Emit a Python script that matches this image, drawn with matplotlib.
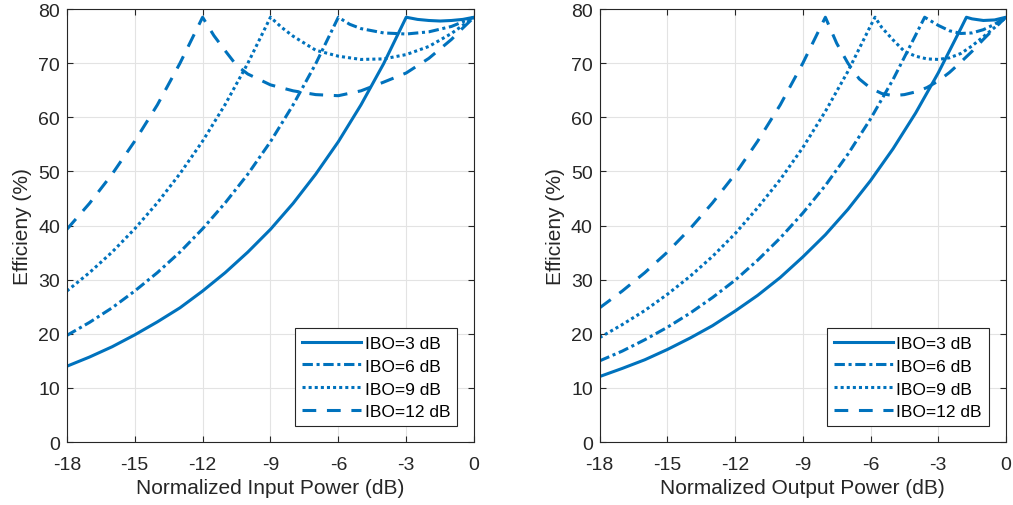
import matplotlib.pyplot as plt
import numpy as np

plt.rcParams['font.family'] = ['Liberation Sans', 'DejaVu Sans']
plt.rcParams['axes.unicode_minus'] = False

# left panel: efficiency vs normalized input power
pin_3 = [-18, -17, -16, -15, -14, -13, -12, -11, -10, -9, -8, -7, -6, -5, -4, -3,
         -2.5, -2, -1.5, -1, -0.5, 0]
eff_in_3 = [14.0, 15.7, 17.6, 19.8, 22.2, 24.8, 27.9, 31.3, 35.1, 39.3, 44.1, 49.5,
            55.5, 62.3, 69.9, 78.5, 78.1, 77.9, 77.8, 77.9, 78.1, 78.5]
pin_6 = [-18, -17, -16, -15, -14, -13, -12, -11, -10, -9, -8, -7, -6,
         -5.5, -5, -4, -3, -2, -1, 0]
eff_in_6 = [19.7, 22.1, 24.8, 27.9, 31.3, 35.1, 39.4, 44.2, 49.5, 55.5, 62.3, 69.9,
            78.5, 77.2, 76.4, 75.6, 75.4, 75.8, 76.8, 78.5]
pin_9 = [-18, -17, -16, -15, -14, -13, -12, -11, -10, -9,
         -8.5, -8, -7, -6, -5, -4, -3, -2, -1, 0]
eff_in_9 = [27.9, 31.3, 35.1, 39.4, 44.2, 49.6, 55.6, 62.4, 70.0, 78.5,
            76.6, 75.0, 72.4, 71.3, 70.7, 70.8, 71.6, 73.1, 75.5, 78.5]
pin_12 = [-18, -17, -16, -15, -14, -13, -12, -11.5, -11, -10.5, -10, -9, -8, -7,
          -6, -5, -4, -3, -2, -1, -0.5, 0]
eff_in_12 = [39.3, 44.1, 49.5, 55.6, 62.3, 70.0, 78.5, 75.1, 72.3, 69.6, 68.0, 66.0,
             64.9, 64.2, 64.0, 64.9, 66.5, 68.2, 70.9, 74.4, 76.5, 78.5]

# right panel: efficiency vs normalized output power
pout_3 = [-18, -17, -16, -15, -14, -13, -12, -11, -10, -9, -8, -7, -6, -5, -4, -3, -2,
          -1.75, -1.5, -1, -0.5, 0]
eff_out_3 = [12.1, 13.6, 15.2, 17.1, 19.2, 21.5, 24.2, 27.1, 30.4, 34.2, 38.3, 43.0,
             48.3, 54.2, 60.8, 68.2, 76.4, 78.5, 78.2, 77.9, 78.0, 78.5]
pout_6 = [-18, -17, -16, -15, -14, -13, -12, -11, -10, -9, -8, -7, -6, -5, -4,
          -3.6, -3, -2.5, -2, -1.5, -1, -0.5, 0]
eff_out_6 = [15.0, 16.8, 18.9, 21.2, 23.8, 26.7, 29.9, 33.6, 37.7, 42.3, 47.4, 53.2,
             59.7, 67.0, 75.2, 78.5, 77.0, 76.0, 75.5, 75.6, 76.2, 77.2, 78.5]
pout_9 = [-18, -17, -16, -15, -14, -13, -12, -11, -10, -9, -8, -7, -6,
          -5.8, -5.5, -5, -4.5, -4, -3.5, -3, -2.5, -2, -1.5, -1, -0.5, 0]
eff_out_9 = [19.3, 21.7, 24.3, 27.3, 30.6, 34.3, 38.5, 43.3, 48.5, 54.4, 61.1, 68.5,
             76.9, 78.5, 76.6, 74.3, 72.2, 71.3, 70.8, 70.7, 71.0, 71.8, 73.2, 74.9,
             76.6, 78.5]
pout_12 = [-18, -17, -16, -15, -14, -13, -12, -11, -10, -9, -8,
           -7.5, -7, -6.5, -6, -5.5, -5, -4.5, -4, -3.5, -3, -2.5, -2, -1.5, -1, -0.5, 0]
eff_out_12 = [24.8, 27.9, 31.3, 35.1, 39.4, 44.2, 49.5, 55.6, 62.3, 70.0, 78.5,
              73.7, 70.0, 67.1, 65.4, 64.4, 64.0, 64.2, 64.7, 65.5, 66.7, 68.3, 70.2,
              72.2, 74.4, 76.5, 78.5]

labels = ['IBO=3 dB', 'IBO=6 dB', 'IBO=9 dB', 'IBO=12 dB']
xticks = [-18, -15, -12, -9, -6, -3, 0]
yticks = [0, 10, 20, 30, 40, 50, 60, 70, 80]

blue = '#0072BD'
dark = '#262626'
styles = ['-', (0, (3.4, 1.2, 1.0, 1.2)), (0, (1.0, 1.0)), (0, (4.5, 3.5))]

fig = plt.figure(figsize=(10.13, 5.06), dpi=100)
ax1 = fig.add_axes([0.066, 0.1245, 0.402, 0.8555])
ax2 = fig.add_axes([0.592, 0.1245, 0.401, 0.8555])

left = [(pin_3, eff_in_3), (pin_6, eff_in_6), (pin_9, eff_in_9), (pin_12, eff_in_12)]
right = [(pout_3, eff_out_3), (pout_6, eff_out_6), (pout_9, eff_out_9), (pout_12, eff_out_12)]

for ax, curves, xlabel in [(ax1, left, 'Normalized Input Power (dB)'),
                           (ax2, right, 'Normalized Output Power (dB)')]:
    for (x, y), ls, lab in zip(curves, styles, labels):
        ax.plot(x, y, color=blue, lw=2.2, linestyle=ls, label=lab)
    ax.set_xlim(-18, 0)
    ax.set_ylim(0, 80)
    ax.set_xticks(xticks)
    ax.set_yticks(yticks)
    ax.grid(True, color='#e3e3e3', lw=0.8)
    ax.set_axisbelow(True)
    ax.tick_params(direction='in', top=True, right=True, length=4, width=0.8,
                   colors=dark, labelsize=14)
    ax.tick_params(axis='x', pad=10)
    ax.tick_params(axis='y', pad=5)
    for sp in ax.spines.values():
        sp.set_color(dark)
        sp.set_linewidth(0.8)
    ax.set_xlabel(xlabel, fontsize=15, color=dark, labelpad=4)
    ax.set_ylabel('Efficieny (%)', fontsize=15, color=dark, labelpad=4)
    leg = ax.legend(loc='lower right', bbox_to_anchor=(0.958, 0.036), fontsize=12.5,
                    handlelength=3.4, handletextpad=0.2, borderpad=0.4,
                    labelspacing=0.45, fancybox=False, framealpha=1, borderaxespad=0)
    leg.get_frame().set_edgecolor(dark)
    leg.get_frame().set_linewidth(0.8)

fig.savefig('out.png', dpi=100)
